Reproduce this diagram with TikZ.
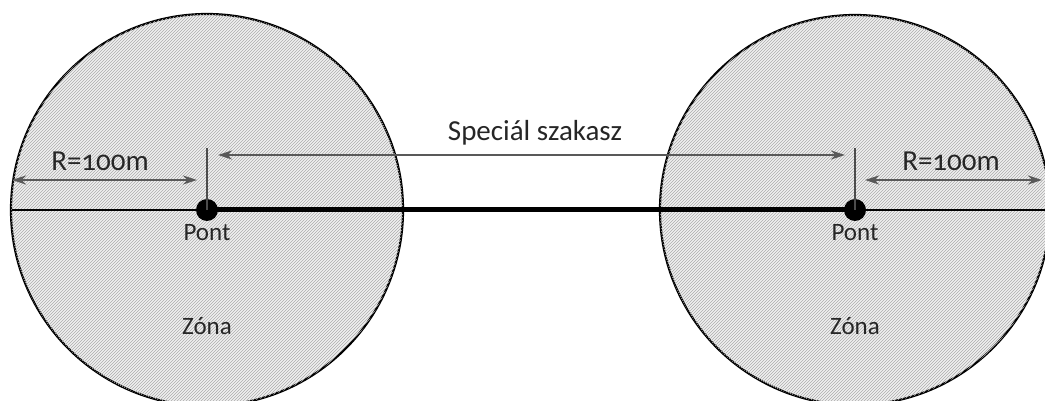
\documentclass[tikz,border=0pt]{standalone}
\usepackage{fontspec}
\setmainfont{Carlito}[Numbers=OldStyle]
\usetikzlibrary{patterns,arrows.meta}
\begin{document}
\begin{tikzpicture}[x=1pt,y=-1pt,
  zone/.style={draw=black,line width=2.2pt,fill=gray!12,
    postaction={pattern=north east lines,pattern color=gray!65}},
  garrow/.style={draw=gray!70!black,line width=2.4pt,{Stealth[length=14pt,width=9pt]}-{Stealth[length=14pt,width=9pt]}},
  dot/.style={circle,fill=black,inner sep=0pt,minimum size=22pt},
  lbl/.style={font=\fontsize{25}{28}\selectfont,text=black!85,inner sep=0pt},
  biglbl/.style={lbl,font=\fontsize{29}{32}\selectfont}]
\useasboundingbox (0,0) rectangle (1045,401);
\begin{scope}
\clip (0,0) rectangle (1045,401);
\draw[zone] (207,210) circle (196);
\draw[zone] (855,210) circle (195);
\coordinate (lend) at (12,210);
\coordinate (rend) at (1045,210);
\node[dot] (p1) at (207,210) {};
\node[dot] (p2) at (855,210) {};
\draw[line width=1.8pt] (lend) -- (p1.center);
\draw[line width=1.8pt] (p2.center) -- (rend);
\draw[line width=5pt] (p1.center) -- (p2.center);
\coordinate (t1) at (207,148);
\coordinate (t2) at (855,148);
\draw[gray!60!black,line width=1.5pt] (t1) -- (p1.center);
\draw[gray!60!black,line width=1.5pt] (t2) -- (p2.center);
\coordinate (a1) at (12,180);
\coordinate (a2) at (197,180);
\coordinate (b1) at (865,180);
\coordinate (b2) at (1042,180);
\coordinate (s1) at (218,155);
\coordinate (s2) at (845,155);
\draw[garrow] (a1) -- (a2);
\draw[garrow] (b1) -- (b2);
\draw[garrow] (s1) -- (s2);
\node[biglbl] (r1) at (100,161) {R=100m};
\node[biglbl] (r2) at (951,161) {R=100m};
\node[biglbl] (sp) at (535,133) {Speciál szakasz};
\node[lbl] (pl1) at (207,233) {Pont};
\node[lbl] (pl2) at (855,233) {Pont};
\node[lbl] (z1) at (207,326) {Zóna};
\node[lbl] (z2) at (855,326) {Zóna};
\end{scope}
\end{tikzpicture}
\end{document}
